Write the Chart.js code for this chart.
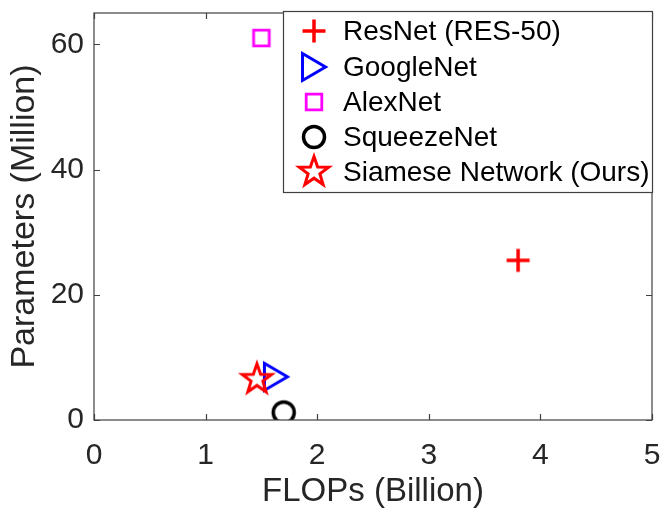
<!DOCTYPE html>
<html>
<head>
<meta charset="utf-8">
<script src="https://cdn.jsdelivr.net/npm/chart.js@4.4.1/dist/chart.umd.min.js"></script>
<style>
  html, body { margin: 0; padding: 0; background: #ffffff; }
  #wrap { width: 665px; height: 515px; position: relative; }
</style>
</head>
<body>
<div id="wrap"><canvas id="c" width="665" height="515"></canvas></div>
<script>
// ---- data ----
const categories = ['ResNet (RES-50)', 'GoogleNet', 'AlexNet', 'SqueezeNet', 'Siamese Network (Ours)'];
const flops = [3.8, 1.63, 1.5, 1.7, 1.46];
const params = [25.5, 6.9, 61.0, 1.2, 6.5];
const xTickValues = [0, 1, 2, 3, 4, 5];
const yTickValues = [0, 20, 40, 60];
const xTitle = 'FLOPs (Billion)';
const yTitle = 'Parameters (Million)';

// ---- styles ----
const markerTypes = ['plus', 'triRight', 'square', 'circle', 'star'];
const markerColors = ['#ff0000', '#0000ff', '#ff00ff', '#000000', '#ff0000'];
const textColor = '#262626';
const axisColor = '#404040';
const FONT = "'Liberation Sans', Arial, Helvetica, sans-serif";

function makeMarker(type, color) {
  const S = 44;
  const cv = document.createElement('canvas');
  cv.width = S; cv.height = S;
  const g = cv.getContext('2d');
  const c = S / 2;
  g.strokeStyle = color;
  g.lineJoin = 'miter';
  g.beginPath();
  if (type === 'plus') {
    g.lineWidth = 3.5;
    g.moveTo(c - 11.5, c); g.lineTo(c + 11.5, c);
    g.moveTo(c, c - 11.5); g.lineTo(c, c + 11.5);
    g.stroke();
  } else if (type === 'triRight') {
    g.lineWidth = 3;
    const w = 23, h = 27;
    g.moveTo(c - w / 2, c - h / 2);
    g.lineTo(c + w / 2, c);
    g.lineTo(c - w / 2, c + h / 2);
    g.closePath();
    g.stroke();
  } else if (type === 'square') {
    g.lineWidth = 2.8;
    g.rect(c - 7.8, c - 7.8, 15.6, 15.6);
    g.stroke();
  } else if (type === 'circle') {
    g.lineWidth = 3.5;
    g.arc(c, c, 10.5, 0, Math.PI * 2);
    g.stroke();
  } else if (type === 'star') {
    g.lineWidth = 3;
    const R = 15.5, r = R * 0.40;
    for (let i = 0; i < 10; i++) {
      const ang = -Math.PI / 2 + i * Math.PI / 5;
      const rad = (i % 2 === 0) ? R : r;
      const px = c + rad * Math.cos(ang), py = c + rad * Math.sin(ang);
      if (i === 0) g.moveTo(px, py); else g.lineTo(px, py);
    }
    g.closePath();
    g.stroke();
  }
  return cv;
}

const markers = markerTypes.map((t, i) => makeMarker(t, markerColors[i]));

const datasets = categories.map((name, i) => ({
  label: name,
  data: [{ x: flops[i], y: params[i] }],
  pointStyle: markers[i],
  pointRadius: 12,
  pointHoverRadius: 12,
  order: categories.length - 1 - i
}));

// box + inward ticks on all four sides
const boxTicks = {
  id: 'boxTicks',
  afterDatasetsDraw(chart) {
    const { ctx, chartArea: a, scales } = chart;
    ctx.save();
    ctx.strokeStyle = axisColor;
    ctx.lineWidth = 1.2;
    ctx.strokeRect(a.left, a.top, a.right - a.left, a.bottom - a.top);
    const tl = 6;
    ctx.beginPath();
    xTickValues.forEach(v => {
      const px = Math.round(scales.x.getPixelForValue(v)) + 0.5;
      ctx.moveTo(px, a.bottom); ctx.lineTo(px, a.bottom - tl);
      ctx.moveTo(px, a.top); ctx.lineTo(px, a.top + tl);
    });
    yTickValues.forEach(v => {
      const py = Math.round(scales.y.getPixelForValue(v)) + 0.5;
      ctx.moveTo(a.left, py); ctx.lineTo(a.left + tl, py);
      ctx.moveTo(a.right, py); ctx.lineTo(a.right - tl, py);
    });
    ctx.stroke();
    ctx.restore();
  }
};

// legend box inside plot area (top-right)
const boxLegend = {
  id: 'boxLegend',
  afterDraw(chart) {
    const { ctx, chartArea: a } = chart;
    const right = a.right, left = 283, top = 11, bottom = 192;
    ctx.save();
    ctx.fillStyle = '#ffffff';
    ctx.fillRect(left, top, right - left, bottom - top);
    ctx.strokeStyle = axisColor;
    ctx.lineWidth = 1.2;
    ctx.strokeRect(left + 0.5, top + 0.5, right - left, bottom - top);
    const rowY = [31, 67, 102, 137, 172];
    ctx.font = '28px ' + FONT;
    ctx.fillStyle = '#000000';
    ctx.textBaseline = 'middle';
    ctx.textAlign = 'left';
    categories.forEach((name, i) => {
      const m = markers[i];
      ctx.drawImage(m, 314 - m.width / 2, rowY[i] - m.height / 2);
      ctx.fillText(name, 343, rowY[i] + 1);
    });
    ctx.restore();
  }
};

new Chart(document.getElementById('c'), {
  type: 'scatter',
  data: { datasets },
  options: {
    responsive: false,
    animation: false,
    devicePixelRatio: 1,
    layout: { padding: { top: 12, right: 11, left: 0, bottom: 0 } },
    plugins: { legend: { display: false }, tooltip: { enabled: false } },
    scales: {
      x: {
        type: 'linear',
        min: 0, max: 5,
        afterBuildTicks: s => { s.ticks = xTickValues.map(v => ({ value: v })); },
        afterFit: s => { s.height = 95; s.paddingLeft = 0; s.paddingRight = 0; },
        grid: { display: false, drawTicks: false },
        border: { display: false },
        ticks: { color: textColor, font: { family: FONT, size: 30 }, padding: 18, maxRotation: 0 },
        title: { display: true, text: xTitle, color: textColor, font: { family: FONT, size: 33 }, padding: { top: 0, bottom: 3 } }
      },
      y: {
        type: 'linear',
        min: 0, max: 65,
        afterBuildTicks: s => { s.ticks = yTickValues.map(v => ({ value: v })); },
        afterFit: s => { s.width = 94; s.paddingTop = 0; s.paddingBottom = 0; },
        grid: { display: false, drawTicks: false },
        border: { display: false },
        ticks: { color: textColor, font: { family: FONT, size: 30 }, padding: 10 },
        title: { display: true, text: yTitle, color: textColor, font: { family: FONT, size: 34 }, padding: { top: 4, bottom: 0 } }
      }
    }
  },
  plugins: [boxTicks, boxLegend]
});
</script>
</body>
</html>
